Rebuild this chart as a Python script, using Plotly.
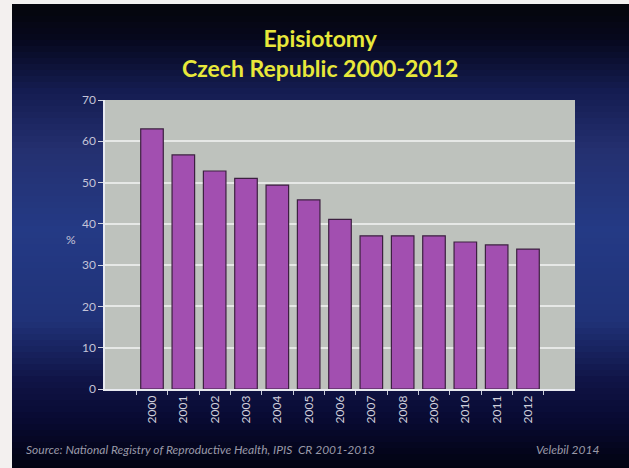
import plotly.graph_objects as go

years = ["2000", "2001", "2002", "2003", "2004", "2005", "2006",
         "2007", "2008", "2009", "2010", "2011", "2012"]
values = [63.0, 56.7, 52.8, 51.0, 49.4, 45.8, 41.1, 37.1, 37.1, 37.1, 35.6, 34.9, 33.9]
y_ticks = [0, 10, 20, 30, 40, 50, 60, 70]

W, H = 629, 468
L, R, T, B = 105, 575, 100, 389  # plot area in pixels


def px(x):
    return (x - L) / (R - L)


def py(y):
    return (B - y) / (B - T)


# background gradient keypoints (pixel y, rgb)
keys = [(4, (5, 5, 10)), (40, (6, 8, 30)), (90, (20, 28, 80)), (150, (36, 48, 112)),
        (230, (36, 58, 133)), (320, (32, 50, 120)), (380, (16, 20, 70)),
        (420, (8, 10, 50)), (468, (2, 3, 16))]


def col(y):
    for (y0, c0), (y1, c1) in zip(keys[:-1], keys[1:]):
        if y0 <= y <= y1:
            t = (y - y0) / (y1 - y0)
            return "rgb(%d,%d,%d)" % tuple(round(a + (b - a) * t) for a, b in zip(c0, c1))
    return "rgb(2,3,16)"


shapes = []
step = 6
y = 4
while y < H:
    y2 = min(y + step, H)
    shapes.append(dict(type="rect", xref="paper", yref="paper", layer="below",
                       x0=px(12), x1=px(W), y0=py(y2 + 0.5), y1=py(y),
                       fillcolor=col((y + y2) / 2), line=dict(width=0)))
    y = y2
shapes.append(dict(type="rect", xref="paper", yref="paper", layer="below",
                   x0=0, x1=1, y0=0, y1=1, fillcolor="#bec2bd", line=dict(width=0)))

fig = go.Figure()
fig.add_trace(go.Bar(
    x=years, y=values, width=0.72,
    marker=dict(color="#a24fb0", line=dict(color="#3c2040", width=1.2)),
))

fig.update_layout(
    width=W, height=H,
    margin=dict(l=L, r=W - R, t=T, b=H - B),
    paper_bgcolor="#f3f0ef",
    plot_bgcolor="#bec2bd",
    showlegend=False,
    shapes=shapes,
    title=dict(text="Episiotomy<br>Czech Republic 2000-2012",
               x=0.509, xanchor="center", y=0.9, yanchor="middle",
               font=dict(family="Lato", size=23, color="#e8e83a", weight="bold")),
    font=dict(family="Lato"),
    xaxis=dict(
        type="category", range=[-1.5, 13.5], tickangle=-90,
        tickfont=dict(size=12, color="#d0d0dc"),
        showgrid=False, showline=True, linecolor="#e8eaf0", linewidth=1.5,
        ticks="outside", tickson="boundaries", ticklen=4, tickcolor="#c8ccd8",
    ),
    yaxis=dict(
        range=[0, 70], tickvals=y_ticks,
        tickfont=dict(size=12, color="#c4c4d8"),
        showgrid=True, gridcolor="#e6e8e6", gridwidth=1.5,
        showline=True, linecolor="#e8eaf0", linewidth=1.5,
        ticks="outside", ticklen=5, tickcolor="#d0d4e0",
        zeroline=False,
    ),
    annotations=[
        dict(text="%", xref="paper", yref="paper", x=px(64), y=py(239),
             showarrow=False, font=dict(size=12, color="#c4c4d8")),
        dict(text="<i>Source: National Registry of Reproductive Health, IPIS  CR 2001-2013</i>",
             xref="paper", yref="paper", x=px(24), y=py(459), xanchor="left",
             showarrow=False, font=dict(size=12, color="#9a9aa8")),
        dict(text="<i>Velebil 2014</i>", xref="paper", yref="paper",
             x=px(601), y=py(459), xanchor="right",
             showarrow=False, font=dict(size=12, color="#9a9aa8")),
    ],
)

fig.write_html("out.html")
